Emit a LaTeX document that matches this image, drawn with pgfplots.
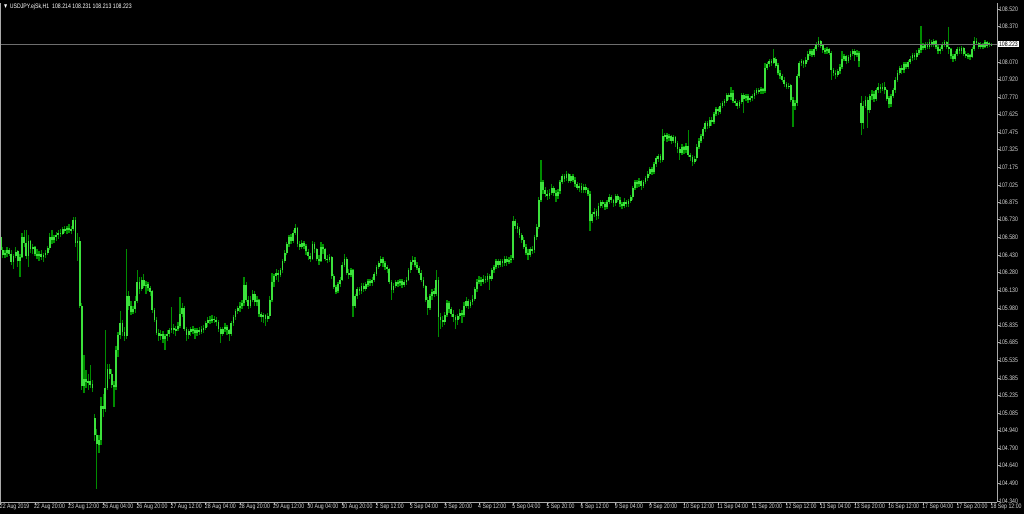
\documentclass[border=0pt]{standalone}
\usepackage{pgfplots}
\pgfplotsset{compat=1.18}
\usepackage{pgfplotstable}
\usepackage{fontspec}
\setmainfont{Liberation Sans}
\newfontfamily\mtfont[FakeStretch=0.8]{Liberation Sans}
\definecolor{mtwick}{RGB}{0,140,0}
\definecolor{mtbody}{RGB}{60,225,60}
\definecolor{axgray}{RGB}{170,170,170}
\definecolor{txtgray}{RGB}{215,215,215}
\definecolor{pricegray}{RGB}{110,110,110}
\pgfplotstableread{
o h l c
106.58 106.61 106.43 106.47
106.47 106.50 106.40 106.43
106.43 106.47 106.40 106.45
106.45 106.50 106.41 106.47
106.47 106.49 106.42 106.44
106.44 106.47 106.35 106.37
106.37 106.44 106.31 106.42
106.42 106.50 106.40 106.46
106.46 106.47 106.33 106.38
106.38 106.44 106.24 106.41
106.41 106.62 106.40 106.58
106.58 106.64 106.50 106.53
106.53 106.64 106.40 106.42
106.42 106.60 106.33 106.55
106.55 106.56 106.45 106.48
106.48 106.52 106.44 106.50
106.50 106.51 106.42 106.44
106.44 106.48 106.40 106.42
106.42 106.46 106.38 106.44
106.44 106.47 106.39 106.41
106.41 106.45 106.37 106.43
106.43 106.47 106.40 106.45
106.45 106.51 106.43 106.49
106.49 106.62 106.47 106.58
106.58 106.64 106.52 106.56
106.56 106.60 106.53 106.58
106.58 106.63 106.55 106.60
106.60 106.64 106.57 106.62
106.62 106.65 106.58 106.61
106.61 106.67 106.60 106.65
106.65 106.68 106.62 106.64
106.64 106.68 106.61 106.66
106.66 106.69 106.62 106.64
106.64 106.68 106.61 106.65
106.65 106.75 106.63 106.73
106.73 106.75 106.50 106.53
106.53 106.62 106.38 106.55
106.55 106.58 105.98 106.00
106.00 106.02 105.28 105.32
105.32 105.58 105.26 105.38
105.38 105.45 105.30 105.35
105.35 105.42 105.28 105.36
105.36 105.50 105.30 105.33
105.33 105.37 105.27 105.30
105.05 105.08 104.85 104.90
104.90 104.95 104.44 104.82
104.82 104.90 104.75 104.86
104.86 105.22 104.82 105.15
105.15 105.25 105.05 105.12
105.12 105.79 105.10 105.30
105.30 105.50 105.28 105.46
105.46 105.50 105.38 105.42
105.42 105.46 105.30 105.33
105.33 105.36 105.14 105.31
105.31 105.66 105.28 105.62
105.62 105.78 105.56 105.75
105.75 105.95 105.72 105.85
105.85 105.88 105.74 105.78
105.78 105.82 105.70 105.74
105.74 106.48 105.72 106.08
106.08 106.12 105.96 106.00
106.00 106.04 105.92 105.95
105.95 106.00 105.93 105.97
105.97 106.08 105.94 106.04
106.04 106.30 106.02 106.20
106.20 106.24 106.10 106.14
106.14 106.24 106.12 106.22
106.22 106.27 106.15 106.17
106.17 106.21 106.10 106.18
106.18 106.20 106.12 106.15
106.15 106.17 106.08 106.12
106.12 106.13 105.94 105.96
105.96 105.98 105.86 105.88
105.88 105.90 105.75 105.77
105.77 105.80 105.70 105.74
105.74 105.79 105.71 105.76
105.76 105.78 105.68 105.72
105.72 105.76 105.62 105.74
105.74 105.79 105.70 105.76
105.76 105.81 105.73 105.79
105.79 105.99 105.77 105.81
105.81 105.84 105.76 105.79
105.79 105.83 105.74 105.80
105.80 105.86 105.78 105.83
105.83 106.07 105.81 105.93
105.93 106.02 105.90 105.98
105.98 106.00 105.78 105.80
105.80 105.82 105.70 105.75
105.75 105.80 105.72 105.78
105.78 105.82 105.74 105.80
105.80 105.83 105.76 105.79
105.79 105.81 105.72 105.77
105.77 105.81 105.74 105.79
105.79 105.82 105.75 105.78
105.78 105.83 105.76 105.80
105.80 105.84 105.77 105.81
105.81 105.87 105.79 105.85
105.85 105.90 105.82 105.88
105.88 105.91 105.84 105.87
105.87 105.92 105.85 105.89
105.89 105.91 105.85 105.88
105.88 105.90 105.83 105.86
105.86 105.88 105.78 105.80
105.80 105.82 105.68 105.76
105.76 105.82 105.74 105.80
105.80 105.85 105.78 105.82
105.82 105.84 105.75 105.79
105.79 105.80 105.70 105.76
105.76 105.87 105.74 105.85
105.85 105.92 105.83 105.90
105.90 105.97 105.88 105.95
105.95 106.00 105.93 105.98
105.98 106.03 105.95 106.00
106.00 106.05 105.97 106.02
106.02 106.24 106.00 106.18
106.18 106.20 106.03 106.05
106.05 106.08 105.97 106.00
106.00 106.08 105.98 106.05
106.05 106.13 106.03 106.10
106.10 106.12 106.00 106.03
106.03 106.08 106.00 106.05
106.05 106.06 105.90 105.93
105.93 105.95 105.86 105.90
105.90 105.94 105.85 105.92
105.92 105.93 105.83 105.89
105.89 105.94 105.86 105.91
105.91 106.08 105.89 106.05
106.05 106.28 106.03 106.20
106.20 106.27 106.16 106.25
106.25 106.31 106.22 106.28
106.28 106.30 106.20 106.26
106.26 106.32 106.24 106.30
106.30 106.40 106.28 106.38
106.38 106.47 106.36 106.45
106.45 106.54 106.43 106.52
106.52 106.60 106.50 106.58
106.58 106.61 106.52 106.55
106.55 106.64 106.53 106.62
106.62 106.69 106.60 106.66
106.66 106.67 106.50 106.52
106.52 106.55 106.47 106.50
106.50 106.56 106.48 106.53
106.53 106.55 106.48 106.51
106.51 106.52 106.43 106.46
106.46 106.48 106.39 106.42
106.42 106.45 106.37 106.40
106.40 106.55 106.39 106.52
106.52 106.54 106.45 106.48
106.48 106.49 106.38 106.40
106.40 106.43 106.35 106.38
106.38 106.54 106.37 106.50
106.50 106.52 106.44 106.48
106.48 106.49 106.38 106.40
106.40 106.43 106.36 106.39
106.39 106.44 106.37 106.41
106.41 106.42 106.23 106.25
106.25 106.27 106.14 106.16
106.16 106.18 106.10 106.12
106.12 106.20 106.11 106.18
106.18 106.24 106.16 106.22
106.22 106.37 106.21 106.35
106.35 106.44 106.33 106.40
106.40 106.41 106.26 106.28
106.28 106.31 106.23 106.26
106.26 106.32 106.24 106.30
106.30 106.31 105.90 106.00
106.00 106.10 105.98 106.08
106.08 106.16 106.06 106.14
106.14 106.16 106.09 106.12
106.12 106.19 106.10 106.17
106.17 106.19 106.12 106.14
106.14 106.20 106.12 106.18
106.18 106.23 106.16 106.21
106.21 106.23 106.17 106.19
106.19 106.24 106.17 106.22
106.22 106.29 106.20 106.27
106.27 106.35 106.25 106.33
106.33 106.38 106.31 106.36
106.36 106.42 106.34 106.40
106.40 106.41 106.33 106.36
106.36 106.38 106.30 106.33
106.33 106.35 106.28 106.31
106.31 106.32 106.18 106.20
106.20 106.22 106.05 106.13
106.13 106.19 106.11 106.17
106.17 106.22 106.15 106.20
106.20 106.22 106.16 106.19
106.19 106.23 106.17 106.21
106.21 106.23 106.15 106.18
106.18 106.22 106.16 106.20
106.20 106.24 106.18 106.22
106.22 106.32 106.21 106.30
106.30 106.39 106.28 106.37
106.37 106.42 106.35 106.39
106.39 106.41 106.33 106.35
106.35 106.37 106.30 106.32
106.32 106.34 106.26 106.28
106.28 106.30 106.20 106.22
106.22 106.24 106.15 106.17
106.17 106.18 106.03 106.05
106.05 106.07 105.92 105.98
105.98 106.10 105.96 106.08
106.08 106.14 106.05 106.12
106.12 106.15 106.07 106.10
106.10 106.30 106.08 106.22
106.22 106.24 105.73 105.90
105.90 105.94 105.80 105.88
105.88 105.91 105.82 105.86
105.86 105.95 105.84 105.92
105.92 106.05 105.90 106.02
106.02 106.04 105.94 105.97
105.97 105.99 105.90 105.93
105.93 105.96 105.86 105.90
105.90 105.92 105.80 105.88
105.88 105.93 105.84 105.91
105.91 105.97 105.89 105.94
105.94 105.96 105.85 105.92
105.92 106.03 105.90 106.00
106.00 106.07 105.98 106.04
106.04 106.06 105.97 106.00
106.00 106.05 105.98 106.03
106.03 106.09 106.01 106.06
106.06 106.16 106.04 106.14
106.14 106.23 106.12 106.20
106.20 106.25 106.18 106.22
106.22 106.24 106.17 106.20
106.20 106.26 106.18 106.23
106.23 106.25 106.19 106.22
106.22 106.28 106.20 106.25
106.25 106.27 106.13 106.23
106.23 106.32 106.21 106.30
106.30 106.35 106.28 106.33
106.33 106.40 106.31 106.38
106.38 106.40 106.32 106.35
106.35 106.40 106.33 106.38
106.38 106.40 106.33 106.36
106.36 106.42 106.34 106.40
106.40 106.42 106.34 106.37
106.37 106.41 106.35 106.39
106.39 106.43 106.36 106.40
106.40 106.76 106.39 106.72
106.72 106.74 106.65 106.68
106.68 106.70 106.62 106.65
106.65 106.67 106.57 106.60
106.60 106.62 106.53 106.56
106.56 106.58 106.48 106.50
106.50 106.52 106.43 106.45
106.45 106.48 106.39 106.43
106.43 106.50 106.41 106.48
106.48 106.51 106.44 106.47
106.47 106.60 106.45 106.58
106.58 106.69 106.56 106.67
106.67 106.92 106.65 106.90
106.90 107.24 106.88 107.05
107.05 107.07 106.95 106.98
106.98 107.01 106.92 106.95
106.95 106.98 106.90 106.93
106.93 106.99 106.91 106.96
106.96 107.03 106.94 107.00
107.00 107.02 106.93 106.96
106.96 106.98 106.88 106.93
106.93 106.99 106.91 106.97
106.97 107.07 106.95 107.05
107.05 107.12 107.03 107.10
107.10 107.12 107.05 107.08
107.08 107.14 107.06 107.12
107.12 107.13 107.04 107.06
107.06 107.12 107.04 107.10
107.10 107.12 107.05 107.07
107.07 107.09 107.01 107.03
107.03 107.05 106.98 107.00
107.00 107.04 106.97 107.02
107.02 107.04 106.96 106.98
106.98 107.03 106.96 107.01
107.01 107.03 106.96 106.98
106.98 107.00 106.93 106.95
106.95 106.97 106.63 106.72
106.72 106.80 106.70 106.78
106.78 106.83 106.75 106.80
106.80 106.82 106.73 106.76
106.76 106.87 106.74 106.85
106.85 106.90 106.83 106.88
106.88 106.90 106.83 106.86
106.86 106.88 106.81 106.84
106.84 106.90 106.82 106.88
106.88 106.95 106.86 106.92
106.92 106.94 106.87 106.90
106.90 106.91 106.84 106.87
106.87 106.95 106.85 106.93
106.93 106.95 106.88 106.90
106.90 106.92 106.84 106.86
106.86 106.88 106.82 106.85
106.85 106.91 106.83 106.88
106.88 106.90 106.84 106.86
106.86 106.91 106.84 106.89
106.89 106.94 106.87 106.92
106.92 107.02 106.90 107.00
107.00 107.07 106.98 107.05
107.05 107.07 107.00 107.03
107.03 107.08 107.01 107.06
107.06 107.07 106.98 107.02
107.02 107.07 107.00 107.05
107.05 107.10 107.03 107.08
107.08 107.14 107.06 107.12
107.12 107.18 107.10 107.16
107.16 107.18 107.11 107.14
107.14 107.22 107.12 107.20
107.20 107.27 107.18 107.25
107.25 107.29 107.22 107.27
107.27 107.29 107.21 107.24
107.24 107.50 107.22 107.44
107.44 107.47 107.40 107.45
107.45 107.47 107.39 107.42
107.42 107.46 107.40 107.44
107.44 107.45 107.37 107.40
107.40 107.45 107.38 107.43
107.43 107.44 107.35 107.38
107.38 107.40 107.30 107.33
107.33 107.35 107.24 107.30
107.30 107.37 107.28 107.35
107.35 107.36 107.29 107.32
107.32 107.38 107.30 107.36
107.36 107.49 107.26 107.28
107.28 107.30 107.23 107.26
107.26 107.28 107.19 107.22
107.22 107.27 107.20 107.25
107.25 107.37 107.23 107.35
107.35 107.42 107.33 107.40
107.40 107.46 107.38 107.44
107.44 107.52 107.42 107.50
107.50 107.57 107.48 107.55
107.55 107.57 107.50 107.53
107.53 107.60 107.51 107.58
107.58 107.60 107.53 107.56
107.56 107.65 107.54 107.63
107.63 107.69 107.61 107.67
107.67 107.69 107.62 107.65
107.65 107.72 107.63 107.70
107.70 107.74 107.68 107.72
107.72 107.76 107.70 107.74
107.74 107.81 107.72 107.79
107.79 107.81 107.75 107.77
107.77 107.86 107.75 107.81
107.81 107.83 107.72 107.74
107.74 107.76 107.70 107.72
107.72 107.74 107.67 107.70
107.70 107.75 107.68 107.73
107.73 107.81 107.71 107.79
107.79 107.81 107.64 107.76
107.76 107.80 107.74 107.78
107.78 107.80 107.72 107.75
107.75 107.78 107.73 107.76
107.76 107.80 107.74 107.78
107.78 107.83 107.76 107.81
107.81 107.85 107.79 107.83
107.83 107.85 107.80 107.82
107.82 107.86 107.80 107.84
107.84 107.85 107.80 107.82
107.82 108.06 107.81 108.02
108.02 108.07 108.00 108.05
108.05 108.10 108.03 108.08
108.08 108.10 108.04 108.06
108.06 108.18 108.05 108.10
108.10 108.11 108.02 108.04
108.04 108.06 107.96 107.98
107.98 108.00 107.93 107.95
107.95 107.97 107.90 107.92
107.92 107.94 107.86 107.88
107.88 107.90 107.84 107.86
107.86 107.89 107.84 107.87
107.87 107.88 107.73 107.75
107.75 107.77 107.52 107.70
107.70 107.75 107.66 107.72
107.72 107.97 107.70 107.95
107.95 108.08 107.93 108.06
108.06 108.10 108.04 108.08
108.08 108.09 108.02 108.05
108.05 108.11 108.03 108.09
108.09 108.16 108.07 108.14
108.14 108.18 108.12 108.16
108.16 108.18 108.11 108.13
108.13 108.20 108.11 108.18
108.18 108.24 108.16 108.22
108.22 108.28 108.20 108.25
108.25 108.26 108.19 108.21
108.21 108.22 108.15 108.17
108.17 108.19 108.14 108.16
108.16 108.20 108.14 108.18
108.18 108.19 108.13 108.15
108.15 108.16 107.92 108.00
108.00 108.02 107.95 107.98
107.98 108.00 107.93 107.96
107.96 108.01 107.94 107.99
107.99 108.05 107.97 108.03
108.03 108.16 108.01 108.10
108.10 108.14 108.08 108.12
108.12 108.13 108.05 108.08
108.08 108.13 108.06 108.11
108.11 108.16 108.09 108.14
108.14 108.18 108.12 108.16
108.16 108.18 108.08 108.13
108.13 108.17 108.11 108.15
108.15 108.16 108.03 108.08
107.72 107.78 107.45 107.55
107.55 107.74 107.50 107.70
107.70 107.78 107.68 107.75
107.75 107.77 107.51 107.66
107.66 107.80 107.64 107.78
107.78 107.83 107.75 107.80
107.80 107.82 107.73 107.76
107.76 107.85 107.74 107.83
107.83 107.89 107.81 107.86
107.86 107.88 107.81 107.84
107.84 107.89 107.82 107.86
107.86 107.90 107.80 107.83
107.83 107.84 107.74 107.76
107.76 107.78 107.68 107.71
107.71 107.80 107.69 107.78
107.78 107.85 107.76 107.83
107.83 107.94 107.81 107.92
107.92 108.00 107.90 107.98
107.98 108.04 107.96 108.02
108.02 108.04 107.97 108.00
108.00 108.07 107.98 108.05
108.05 108.07 108.01 108.03
108.03 108.09 108.01 108.07
108.07 108.12 108.05 108.10
108.10 108.15 108.08 108.13
108.13 108.15 108.09 108.11
108.11 108.17 108.09 108.15
108.15 108.19 108.13 108.17
108.17 108.38 108.15 108.21
108.21 108.23 108.17 108.19
108.19 108.24 108.17 108.22
108.22 108.24 108.18 108.20
108.20 108.27 108.18 108.24
108.24 108.26 108.20 108.22
108.22 108.27 108.20 108.25
108.25 108.26 108.18 108.20
108.20 108.22 108.14 108.16
108.16 108.20 108.14 108.18
108.18 108.24 108.16 108.22
108.22 108.26 108.20 108.24
108.24 108.25 108.18 108.20
108.20 108.37 108.14 108.18
108.18 108.19 108.10 108.12
108.12 108.14 108.07 108.10
108.10 108.16 108.08 108.14
108.14 108.20 108.12 108.18
108.18 108.20 108.14 108.16
108.16 108.21 108.14 108.19
108.19 108.20 108.12 108.14
108.14 108.16 108.10 108.12
108.12 108.15 108.10 108.13
108.13 108.14 108.09 108.11
108.11 108.20 108.10 108.18
108.18 108.28 108.16 108.25
108.25 108.27 108.21 108.23
108.23 108.24 108.18 108.20
108.20 108.24 108.18 108.22
108.22 108.23 108.18 108.20
108.20 108.26 108.19 108.24
108.24 108.25 108.19 108.21
108.21 108.24 108.20 108.23
108.214 108.231 108.213 108.223
}\data
\begin{document}
\begin{tikzpicture}
\useasboundingbox (0,0) rectangle (1024pt,514pt);
\fill[black] (0,0) rectangle (1024pt,514pt);
\begin{axis}[
  at={(0pt,12pt)}, anchor=south west,
  scale only axis, width=997pt, height=499pt,
  xmin=-0.33, xmax=466.6, ymin=104.331, ymax=108.571,
  hide axis,
]
\addplot[color=mtwick, only marks, mark=*, mark size=0pt, mark options={draw=none, fill=none}, forget plot,
  error bars/.cd, y dir=both, y explicit, error mark=none,
  error bar style={color=mtwick, line width=1.3pt}]
  table[x expr=\coordindex, y expr={(\thisrow{h}+\thisrow{l})/2}, y error expr={(\thisrow{h}-\thisrow{l})/2}] {\data};
\addplot[color=mtbody, only marks, mark=*, mark size=0pt, mark options={draw=none, fill=none}, forget plot,
  error bars/.cd, y dir=both, y explicit, error mark=none,
  error bar style={color=mtbody, line width=1.8pt}]
  table[x expr=\coordindex, y expr={(\thisrow{o}+\thisrow{c})/2}, y error expr={max(abs(\thisrow{c}-\thisrow{o})/2,0.004)}] {\data};
\end{axis}
\begin{axis}[
  at={(0pt,12pt)}, anchor=south west,
  scale only axis, width=997pt, height=499pt,
  xmin=-0.33, xmax=466.6, ymin=104.331, ymax=108.571,
  axis x line*=bottom, axis y line*=right,
  axis line style={axgray, line width=0.8pt},
  tick style={axgray, line width=0.6pt},
  tick align=outside, major tick length=3pt,
  xtick={0,16,...,464},
  xticklabels={22 Aug 2019,22 Aug 20:00,23 Aug 12:00,26 Aug 04:00,26 Aug 20:00,27 Aug 12:00,28 Aug 04:00,28 Aug 20:00,29 Aug 12:00,30 Aug 04:00,30 Aug 20:00,2 Sep 12:00,3 Sep 04:00,3 Sep 20:00,4 Sep 12:00,5 Sep 04:00,5 Sep 20:00,6 Sep 12:00,9 Sep 04:00,9 Sep 20:00,10 Sep 12:00,11 Sep 04:00,11 Sep 20:00,12 Sep 12:00,13 Sep 04:00,13 Sep 20:00,16 Sep 12:00,17 Sep 04:00,17 Sep 20:00,18 Sep 12:00},
  xticklabel style={font=\mtfont\fontsize{6.5}{7}\selectfont, text=txtgray, anchor=north west, xshift=-2pt, yshift=2pt, inner sep=1pt},
  ytick={104.340,104.490,104.640,104.790,104.940,105.085,105.235,105.385,105.535,105.685,105.835,105.980,106.130,106.280,106.430,106.580,106.730,106.875,107.025,107.175,107.325,107.475,107.625,107.770,107.920,108.070,108.370,108.520},
  yticklabels={104.340,104.490,104.640,104.790,104.940,105.085,105.235,105.385,105.535,105.685,105.835,105.980,106.130,106.280,106.430,106.580,106.730,106.875,107.025,107.175,107.325,107.475,107.625,107.770,107.920,108.070,108.370,108.520},
  yticklabel style={font=\mtfont\fontsize{6.5}{7}\selectfont, text=txtgray, anchor=west, xshift=-2pt, inner sep=1pt},
  extra y ticks={108.223},
  extra y tick labels={108.223},
  extra y tick style={grid=major, major grid style={pricegray, line width=0.7pt}, yticklabel style={fill=white, text=black, inner sep=0.8pt}},
  clip=false,
]
\draw[axgray, line width=0.8pt] (rel axis cs:0,0) -- (rel axis cs:0,1);
\end{axis}
\node[anchor=west, text=white, font=\mtfont\fontsize{6.5}{7}\selectfont, inner sep=0pt] at (3pt,507pt) {▼ USDJPY.ejSk,H1\ \ 108.214 108.231 108.213 108.223};
\end{tikzpicture}
\end{document}
